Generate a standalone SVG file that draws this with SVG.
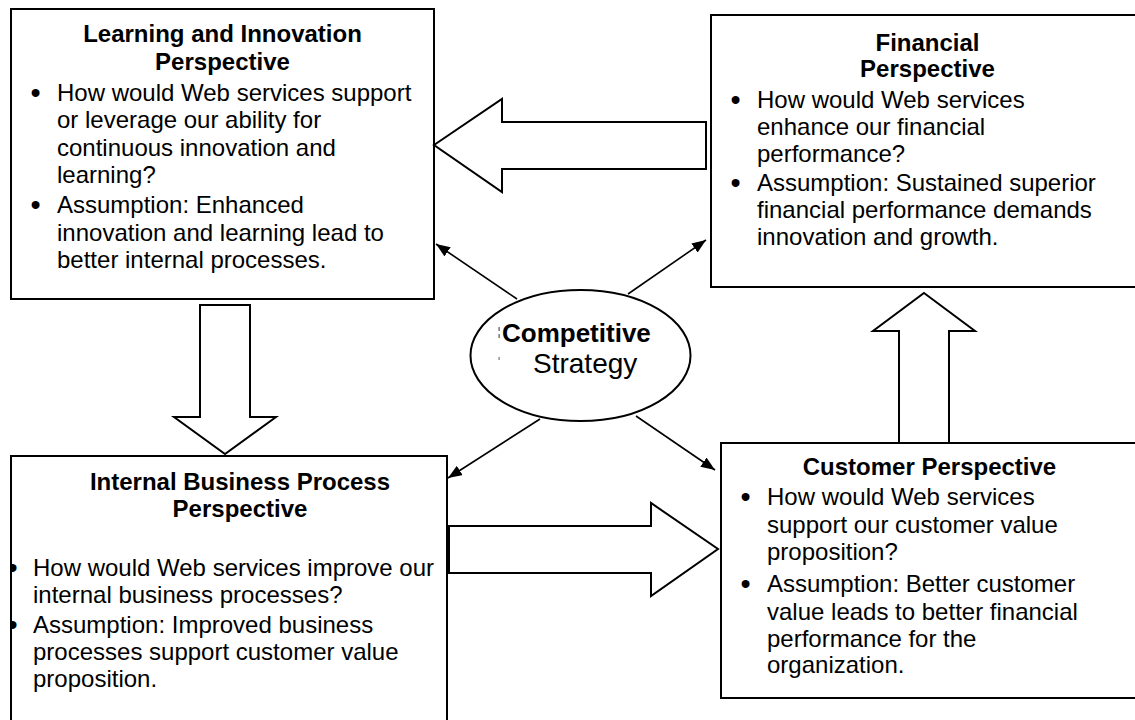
<svg xmlns="http://www.w3.org/2000/svg" width="1135" height="720" viewBox="0 0 1135 720">
<style>
.box{fill:#fff;stroke:#000;stroke-width:2}
.blk{fill:#fff;stroke:#000;stroke-width:2;stroke-linejoin:miter}
.ln{stroke:#000;stroke-width:1.6;fill:none}
text{font-family:"Liberation Sans",Arial,sans-serif;font-size:24px;fill:#000}
.t{font-weight:bold;text-anchor:middle}
.b{font-size:29px}
</style>
<defs>
<marker id="ah" markerUnits="userSpaceOnUse" markerWidth="15" markerHeight="11" refX="14" refY="5.5" orient="auto">
<path d="M0,0 L14,5.5 L0,11 z" fill="#000"/>
</marker>
<clipPath id="ibclip"><rect x="12" y="456" width="434" height="270"/></clipPath>
</defs>
<rect width="1135" height="720" fill="#fff"/>
<g id="learning">
<rect class="box" x="11" y="9" width="423" height="290"/>
<text class="t" x="222.5" y="42.3">Learning and Innovation</text>
<text class="t" x="222.5" y="70">Perspective</text>
<text class="b" x="30.5" y="102.5">•</text>
<text class="b" x="30.5" y="215">•</text>
<text x="57" y="100.7">How would Web services support</text>
<text x="57" y="128.3">or leverage our ability for</text>
<text x="57" y="155.7">continuous innovation and</text>
<text x="57" y="182.7">learning?</text>
<text x="57" y="213.3">Assumption: Enhanced</text>
<text x="57" y="240.7">innovation and learning lead to</text>
<text x="57" y="268.3">better internal processes.</text>
</g>
<g id="financial">
<rect class="box" x="711" y="15" width="435" height="272"/>
<text class="t" x="927.5" y="50.7">Financial</text>
<text class="t" x="927.5" y="76.5">Perspective</text>
<text class="b" x="730.5" y="110">•</text>
<text class="b" x="730.5" y="192.5">•</text>
<text x="757" y="108.3">How would Web services</text>
<text x="757" y="135">enhance our financial</text>
<text x="757" y="162.3">performance?</text>
<text x="757" y="190.7">Assumption: Sustained superior</text>
<text x="757" y="218.3">financial performance demands</text>
<text x="757" y="245">innovation and growth.</text>
</g>
<g id="internal">
<rect class="box" x="11" y="456" width="436" height="280"/>
<text class="t" x="240" y="490">Internal Business Process</text>
<text class="t" x="240" y="517">Perspective</text>
<g clip-path="url(#ibclip)">
<text class="b" x="7.5" y="577.8">•</text>
<text class="b" x="7.5" y="634.8">•</text>
</g>
<text x="33" y="576">How would Web services improve our</text>
<text x="33" y="603">internal business processes?</text>
<text x="33" y="633">Assumption: Improved business</text>
<text x="33" y="660">processes support customer value</text>
<text x="33" y="687">proposition.</text>
</g>
<g id="customer">
<rect class="box" x="721" y="443" width="425" height="255"/>
<text class="t" x="929.5" y="475">Customer Perspective</text>
<text class="b" x="740.5" y="506.8">•</text>
<text class="b" x="740.5" y="593.8">•</text>
<text x="767" y="505">How would Web services</text>
<text x="767" y="533">support our customer value</text>
<text x="767" y="560">proposition?</text>
<text x="767" y="592">Assumption: Better customer</text>
<text x="767" y="620">value leads to better financial</text>
<text x="767" y="647">performance for the</text>
<text x="767" y="673">organization.</text>
</g>
<g id="strategy">
<ellipse cx="580.5" cy="355.5" rx="110" ry="65.5" fill="#fff" stroke="#000" stroke-width="2"/>
<rect x="498.5" y="327" width="1.2" height="4" fill="#555"/>
<rect x="498.5" y="334" width="1.2" height="4" fill="#555"/>
<rect x="498.5" y="357" width="1.2" height="3" fill="#777"/>
<text x="502" y="342" style="font-weight:bold;font-size:26px">Competitive</text>
<text x="533" y="373" style="font-size:28px">Strategy</text>
</g>
<g id="connectors">
<polygon class="blk" points="434,145 502,99 502,122 706,122 706,169 502,169 502,192"/>
<polygon class="blk" points="200,305 250,305 250,417 276,417 225,454 174,417 200,417"/>
<polygon class="blk" points="449,526 651,526 651,503 718,549 651,596 651,573 449,573"/>
<polygon class="blk" points="924,293 975,331 949,331 949,443 899,443 899,331 873,331"/>
<line class="ln" x1="517" y1="299" x2="436" y2="244" marker-end="url(#ah)"/>
<line class="ln" x1="628" y1="294" x2="706" y2="240" marker-end="url(#ah)"/>
<line class="ln" x1="540" y1="419" x2="448" y2="478" marker-end="url(#ah)"/>
<line class="ln" x1="636" y1="416" x2="715" y2="470" marker-end="url(#ah)"/>
</g>
</svg>
